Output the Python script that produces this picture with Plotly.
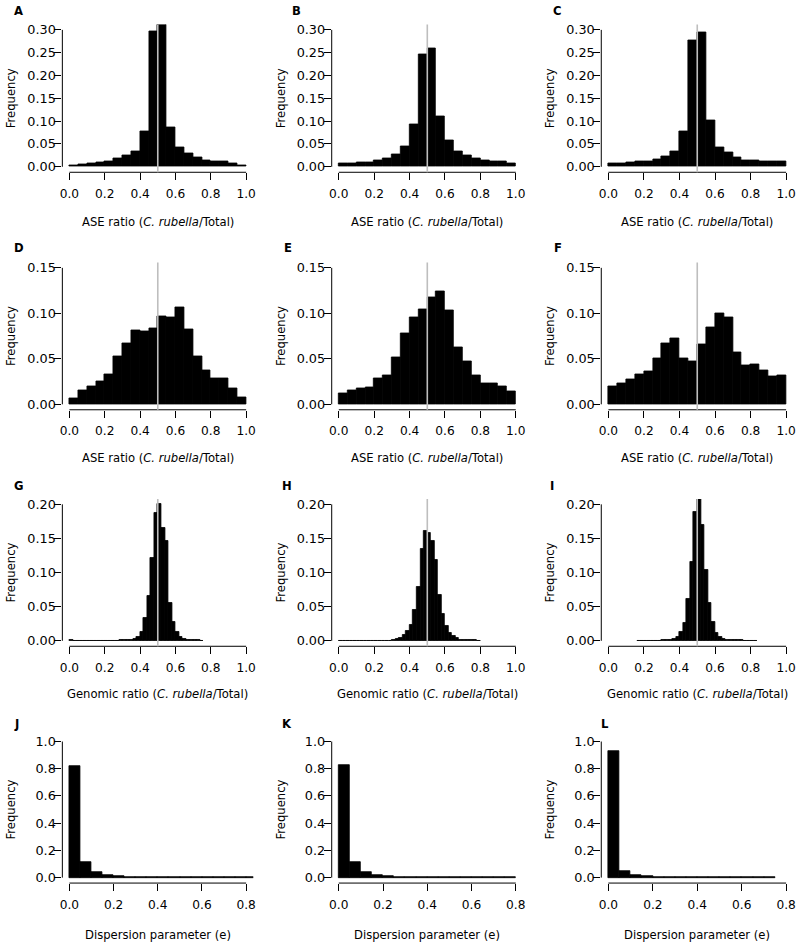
import plotly.graph_objects as go

# ---------------- data (frequencies) ----------------
ase_bin_width = 0.05
ase_bin_start = 0.0
A_freq = [0.004, 0.006, 0.008, 0.010, 0.012, 0.019, 0.024, 0.034, 0.077, 0.297,
          0.312, 0.087, 0.043, 0.029, 0.021, 0.014, 0.011, 0.011, 0.007, 0.004]
B_freq = [0.007, 0.007, 0.009, 0.010, 0.015, 0.018, 0.028, 0.045, 0.092, 0.246,
          0.259, 0.111, 0.057, 0.034, 0.025, 0.018, 0.013, 0.012, 0.011, 0.007]
C_freq = [0.007, 0.008, 0.009, 0.011, 0.012, 0.016, 0.022, 0.034, 0.078, 0.278,
          0.295, 0.102, 0.042, 0.031, 0.020, 0.015, 0.015, 0.012, 0.011, 0.011]
D_freq = [0.006, 0.015, 0.020, 0.025, 0.033, 0.053, 0.067, 0.081, 0.080, 0.083,
          0.097, 0.096, 0.107, 0.082, 0.053, 0.037, 0.028, 0.029, 0.017, 0.008]
E_freq = [0.012, 0.015, 0.017, 0.019, 0.029, 0.032, 0.052, 0.078, 0.096, 0.104,
          0.117, 0.124, 0.103, 0.063, 0.047, 0.032, 0.023, 0.023, 0.020, 0.014]
F_freq = [0.020, 0.023, 0.027, 0.033, 0.036, 0.050, 0.067, 0.073, 0.050, 0.047,
          0.066, 0.085, 0.100, 0.096, 0.057, 0.043, 0.044, 0.037, 0.031, 0.032]

gen_bin_width = 0.02
G_bin_start = 0.00
G_freq = [0.001, 0.0005, 0.0005, 0.0005, 0.0005, 0.0005, 0.0005, 0.0005, 0.0005, 0.0005,
          0.0005, 0.0005, 0.0005, 0.0006, 0.0008, 0.001, 0.0012, 0.0015, 0.003, 0.006,
          0.013, 0.033, 0.066, 0.121, 0.188, 0.201, 0.165, 0.147, 0.056, 0.028,
          0.013, 0.006, 0.003, 0.002, 0.001, 0.001, 0.0008, 0.0005]
H_bin_start = 0.00
H_freq = [0.0005, 0.0005, 0.0005, 0.0005, 0.0005, 0.0005, 0.0005, 0.0005, 0.0005, 0.0005,
          0.0005, 0.0005, 0.0005, 0.0005, 0.0005, 0.001, 0.0025, 0.005, 0.008, 0.015,
          0.023, 0.046, 0.079, 0.134, 0.161, 0.158, 0.146, 0.119, 0.068, 0.039,
          0.022, 0.012, 0.007, 0.004, 0.002, 0.0015, 0.001, 0.001, 0.0008, 0.0005]
I_bin_start = 0.16
I_freq = [0.0005, 0.0005, 0.0005, 0.0005, 0.0005, 0.0005, 0.0005, 0.001, 0.0015, 0.002,
          0.003, 0.006, 0.013, 0.026, 0.061, 0.115, 0.189, 0.208, 0.170, 0.104,
          0.055, 0.028, 0.012, 0.006, 0.003, 0.002, 0.0015, 0.001, 0.001, 0.0008,
          0.0005, 0.0005, 0.0005, 0.0005]

disp_bin_width = 0.05
disp_bin_start = 0.0
J_freq = [0.817, 0.117, 0.044, 0.020, 0.012, 0.007, 0.005, 0.003, 0.002, 0.002,
          0.001, 0.001, 0.001, 0.001, 0.0008, 0.0005, 0.0005]
K_freq = [0.824, 0.117, 0.039, 0.020, 0.010, 0.007, 0.005, 0.003, 0.002, 0.002,
          0.001, 0.001, 0.0015, 0.001, 0.0008, 0.0005]
L_freq = [0.927, 0.051, 0.020, 0.010, 0.005, 0.003, 0.002, 0.001, 0.001, 0.001,
          0.0008, 0.0005, 0.0005, 0.0005, 0.0005]

letters = ["A", "B", "C", "D", "E", "F", "G", "H", "I", "J", "K", "L"]
ase_title = "ASE ratio (<i>C. rubella</i>/Total)"
gen_title = "Genomic ratio (<i>C. rubella</i>/Total)"
disp_title = "Dispersion parameter (e)"
y_title = "Frequency"

ratio_ticks = [0.0, 0.2, 0.4, 0.6, 0.8, 1.0]
ratio_ticklabels = ["0.0", "0.2", "0.4", "0.6", "0.8", "1.0"]
disp_ticks = [0.0, 0.2, 0.4, 0.6, 0.8]
disp_ticklabels = ["0.0", "0.2", "0.4", "0.6", "0.8"]
row1_yticks = [0.00, 0.05, 0.10, 0.15, 0.20, 0.25, 0.30]
row1_ylabels = ["0.00", "0.05", "0.10", "0.15", "0.20", "0.25", "0.30"]
row2_yticks = [0.00, 0.05, 0.10, 0.15]
row2_ylabels = ["0.00", "0.05", "0.10", "0.15"]
row3_yticks = [0.00, 0.05, 0.10, 0.15, 0.20]
row3_ylabels = ["0.00", "0.05", "0.10", "0.15", "0.20"]
row4_yticks = [0.0, 0.2, 0.4, 0.6, 0.8, 1.0]
row4_ylabels = ["0.0", "0.2", "0.4", "0.6", "0.8", "1.0"]
center_ratio = 0.5

# ---------------- panel specification ----------------
panels = [
    (A_freq, ase_bin_start, ase_bin_width, 0, 0),
    (B_freq, ase_bin_start, ase_bin_width, 0, 1),
    (C_freq, ase_bin_start, ase_bin_width, 0, 2),
    (D_freq, ase_bin_start, ase_bin_width, 1, 0),
    (E_freq, ase_bin_start, ase_bin_width, 1, 1),
    (F_freq, ase_bin_start, ase_bin_width, 1, 2),
    (G_freq, G_bin_start, gen_bin_width, 2, 0),
    (H_freq, H_bin_start, gen_bin_width, 2, 1),
    (I_freq, I_bin_start, gen_bin_width, 2, 2),
    (J_freq, disp_bin_start, disp_bin_width, 3, 0),
    (K_freq, disp_bin_start, disp_bin_width, 3, 1),
    (L_freq, disp_bin_start, disp_bin_width, 3, 2),
]

row_info = [
    dict(ticks=row1_yticks, labels=row1_ylabels, ymax=0.30, xt=ase_title,
         xticks=ratio_ticks, xlabels=ratio_ticklabels, xmax=1.0, vline=True),
    dict(ticks=row2_yticks, labels=row2_ylabels, ymax=0.15, xt=ase_title,
         xticks=ratio_ticks, xlabels=ratio_ticklabels, xmax=1.0, vline=True),
    dict(ticks=row3_yticks, labels=row3_ylabels, ymax=0.20, xt=gen_title,
         xticks=ratio_ticks, xlabels=ratio_ticklabels, xmax=1.0, vline=True),
    dict(ticks=row4_yticks, labels=row4_ylabels, ymax=1.0, xt=disp_title,
         xticks=disp_ticks, xlabels=disp_ticklabels, xmax=0.8, vline=False),
]

W, H = 800, 947
col_px = [(59.8, 252.1), (331.2, 523.8), (602.8, 796.2)]
row_px = [(22.5, 171.0), (261.5, 409.5), (499.0, 647.0), (737.2, 884.8)]
xtitle_y = [221, 458, 695, 937]
ytitle_x = [8, 280, 551]
letter_pos = [(9, 9), (289, 9), (552, 9),
              (9, 247.5), (281, 247.5), (553, 247.5),
              (9, 486), (279, 486), (549, 486),
              (9, 725), (279, 725), (600, 725)]

FONT = "DejaVu Sans"
FS = 11.6
TFS_X = 12.2
TFS_Y = 12.8

fig = go.Figure()
layout = dict(width=W, height=H, margin=dict(l=0, r=0, t=0, b=0),
              paper_bgcolor="white", plot_bgcolor="white", showlegend=False,
              font=dict(family=FONT, size=FS, color="black"),
              bargap=0)
shapes = []
annotations = []

for i, (freq, start, bw, r, c) in enumerate(panels):
    n = i + 1
    xa = "x" if n == 1 else f"x{n}"
    ya = "y" if n == 1 else f"y{n}"
    ri = row_info[r]
    centers = [start + bw * (k + 0.5) for k in range(len(freq))]
    fig.add_trace(go.Bar(x=centers, y=freq, width=[bw] * len(freq),
                         marker=dict(color="black", line=dict(color="black", width=0.8)),
                         xaxis=xa, yaxis=ya, hoverinfo="x+y"))
    x0p, x1p = col_px[c]
    y0p, y1p = row_px[r]
    xmax = ri["xmax"]
    ymax = ri["ymax"]
    layout["xaxis" if n == 1 else f"xaxis{n}"] = dict(
        domain=[x0p / W, x1p / W], anchor=ya,
        range=[-0.04 * xmax, 1.04 * xmax], showgrid=False, zeroline=False, showline=False,
        tickmode="array", tickvals=ri["xticks"], ticktext=ri["xlabels"],
        ticks="outside", ticklen=7, tickwidth=1, tickcolor="black",
        tickfont=dict(family=FONT, size=TFS_X, color="black"), ticklabelstandoff=3,
        fixedrange=True)
    layout["yaxis" if n == 1 else f"yaxis{n}"] = dict(
        domain=[1 - y1p / H, 1 - y0p / H], anchor=xa,
        range=[-0.04 * ymax, 1.04 * ymax], showgrid=False, zeroline=False, showline=False,
        tickmode="array", tickvals=ri["ticks"], ticktext=ri["labels"],
        ticks="outside", ticklen=7, tickwidth=1, tickcolor="black",
        tickfont=dict(family=FONT, size=TFS_Y, color="black"), ticklabelstandoff=-4,
        fixedrange=True)
    # R-style axis lines spanning only the tick range
    shapes.append(dict(type="line", xref=xa, yref=f"{ya} domain", x0=0, x1=xmax,
                       y0=0, y1=0, line=dict(color="black", width=1)))
    shapes.append(dict(type="line", xref=f"{xa} domain", yref=ya, x0=0, x1=0,
                       y0=0, y1=ymax, line=dict(color="black", width=1)))
    if ri["vline"]:
        shapes.append(dict(type="line", xref=xa, yref=f"{ya} domain", x0=center_ratio,
                           x1=center_ratio, y0=0, y1=1, layer="above",
                           line=dict(color="#BEBEBE", width=1.6)))
    # titles
    annotations.append(dict(text=ri["xt"], xref="paper", yref="paper",
                            x=(x0p + x1p) / 2 / W, y=1 - xtitle_y[r] / H,
                            xanchor="center", yanchor="middle", showarrow=False,
                            font=dict(family=FONT, size=FS, color="black")))
    annotations.append(dict(text=y_title, xref="paper", yref="paper",
                            x=ytitle_x[c] / W, y=1 - (y0p + (y1p - y0p) * 0.5) / H,
                            xanchor="center", yanchor="middle", textangle=-90,
                            showarrow=False,
                            font=dict(family=FONT, size=FS, color="black")))
    lx, ly = letter_pos[i]
    annotations.append(dict(text=f"<b>{letters[i]}</b>", xref="paper", yref="paper",
                            x=lx / W, y=1 - ly / H, xanchor="left", yanchor="middle",
                            showarrow=False,
                            font=dict(family=FONT, size=FS, color="black")))

layout["shapes"] = shapes
layout["annotations"] = annotations
fig.update_layout(**layout)
fig.write_html("out.html", config={"displayModeBar": False, "staticPlot": False},
               post_script="document.body.style.margin='0';document.body.style.padding='0';")
